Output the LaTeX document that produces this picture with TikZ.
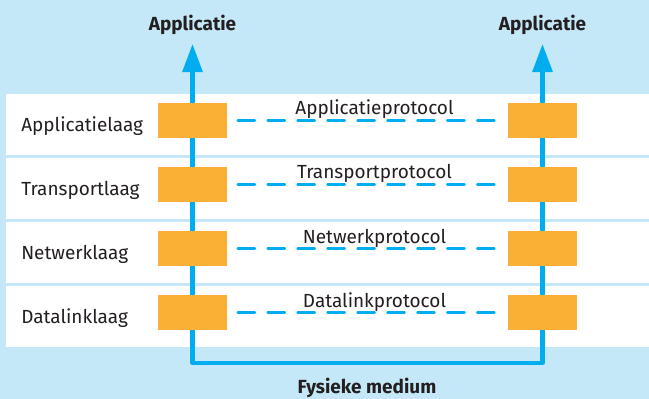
\documentclass[tikz,border=0pt]{standalone}
\usepackage{fontspec}
\setmainfont{Fira Sans}
\usetikzlibrary{arrows.meta}
\definecolor{lichtblauw}{RGB}{197,232,248}
\definecolor{lijnblauw}{RGB}{0,174,239}
\definecolor{oranje}{RGB}{249,176,52}
\definecolor{tekst}{RGB}{35,31,32}

\begin{document}
\begin{tikzpicture}[x=0.025cm, y=-0.025cm,
	rij/.style={rectangle, fill=white, inner sep=0pt, minimum width=16.075cm, minimum height=1.525cm},
	blok/.style={rectangle, fill=oranje, inner sep=0pt, minimum width=1.725cm, minimum height=0.875cm},
	laag/.style={anchor=base west, inner sep=0pt, text=tekst, font=\fontsize{13.5}{16}\selectfont},
	protocol/.style={anchor=base, inner sep=0pt, text=tekst, font=\fontsize{13.5}{16}\selectfont},
	kop/.style={anchor=base, inner sep=0pt, text=tekst, font=\fontsize{13.5}{16}\selectfont\bfseries},
	medium/.style={draw=lijnblauw, line width=3pt, line join=round, {Triangle[width=14pt,length=20pt]}-{Triangle[width=14pt,length=20pt]}},
	stippel/.style={draw=lijnblauw, line width=2.8pt, line cap=round, dash pattern=on 11pt off 10.3pt, shorten <=8pt, shorten >=8pt}]

	\useasboundingbox	(0,0)	rectangle	(649,399);
	\fill[lichtblauw]	(0,0)	rectangle	(649,399);

	% de vier lagen
	\node 	(rij1)		at	(327.5,124.5) 	[rij]{};
	\node 	(rij2)		at	(327.5,188.5) 	[rij]{};
	\node 	(rij3)		at	(327.5,252.5) 	[rij]{};
	\node 	(rij4)		at	(327.5,316.5) 	[rij]{};

	% fysieke medium
	\coordinate 	(pijl1)		at	(192.5,44);
	\coordinate 	(hoek1)		at	(192.5,363);
	\coordinate 	(hoek2)		at	(542.5,363);
	\coordinate 	(pijl2)		at	(542.5,44);

	\draw[medium]	(pijl1)	--	(hoek1)	--	(hoek2)	--	(pijl2);

	\node 	(l1)		at	(192.5,120.5) 	[blok]{};
	\node 	(l2)		at	(192.5,184.5) 	[blok]{};
	\node 	(l3)		at	(192.5,248.5) 	[blok]{};
	\node 	(l4)		at	(192.5,312.5) 	[blok]{};

	\node 	(r1)		at	(542.5,120.5) 	[blok]{};
	\node 	(r2)		at	(542.5,184.5) 	[blok]{};
	\node 	(r3)		at	(542.5,248.5) 	[blok]{};
	\node 	(r4)		at	(542.5,312.5) 	[blok]{};

	\draw[stippel]	(l1)	--	(r1);
	\draw[stippel]	(l2)	--	(r2);
	\draw[stippel]	(l3)	--	(r3);
	\draw[stippel]	(l4)	--	(r4);

	\node 	(t1)		at	(21,131.5) 	[laag]{Applicatielaag};
	\node 	(t2)		at	(21,195.5) 	[laag]{Transportlaag};
	\node 	(t3)		at	(21,259.5) 	[laag]{Netwerklaag};
	\node 	(t4)		at	(21,323.5) 	[laag]{Datalinklaag};

	\node 	(p1)		at	(374.5,115) 	[protocol]{Applicatieprotocol};
	\node 	(p2)		at	(374.5,179) 	[protocol]{Transportprotocol};
	\node 	(p3)		at	(374.5,243) 	[protocol]{Netwerkprotocol};
	\node 	(p4)		at	(374.5,307) 	[protocol]{Datalinkprotocol};

	\node 	(a1)		at	(192.5,31) 	[kop]{Applicatie};
	\node 	(a2)		at	(542.5,31) 	[kop]{Applicatie};
	\node 	(fm)		at	(367,393) 	[kop]{Fysieke medium};

\end{tikzpicture}
\end{document}
